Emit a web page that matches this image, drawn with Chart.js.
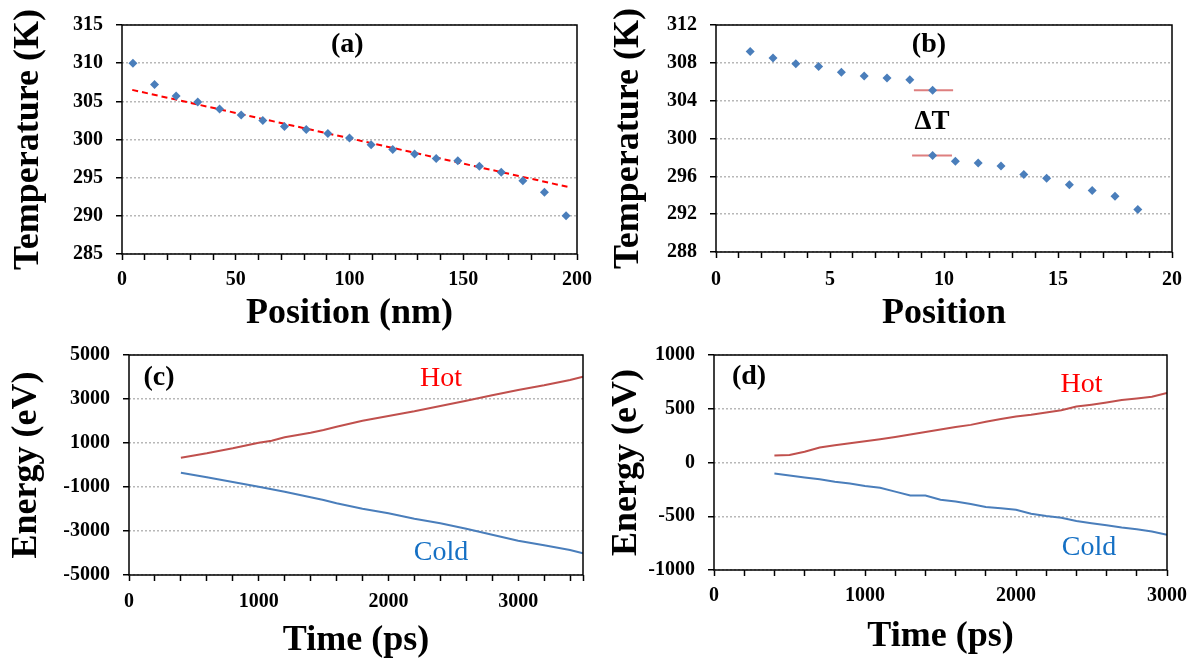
<html>

<head>
  <meta charset="utf-8">
  <style>
    html,
    body {
      margin: 0;
      padding: 0;
      background: #fff;
    }

    #wrap {
      position: relative;
      width: 1196px;
      height: 664px;
      overflow: hidden;
    }

    canvas {
      position: absolute;
    }
  </style>
</head>

<body>
  <div id="wrap">
    <canvas id="chartA" width="600" height="345" style="left:0;top:0"></canvas>
    <canvas id="chartB" width="596" height="345" style="left:600px;top:0"></canvas>
    <canvas id="chartC" width="600" height="334" style="left:0;top:330px"></canvas>
    <canvas id="chartD" width="596" height="334" style="left:600px;top:330px"></canvas>
  </div>
  <script src="https://cdn.jsdelivr.net/npm/chart.js@4.4.0/dist/chart.umd.min.js"></script>
  <script type="text/javascript">
    // (a) temperature profile, position in nm
    const posA = [4.8, 14.3, 23.8, 33.3, 42.9, 52.4, 61.9, 71.4, 81.0, 90.5, 100.0, 109.5, 119.0, 128.6, 138.1, 147.6, 157.1, 166.7, 176.2, 185.7, 195.2];
    const tempA = [310.0, 307.2, 305.7, 304.9, 304.0, 303.2, 302.5, 301.7, 301.3, 300.8, 300.2, 299.3, 298.7, 298.1, 297.5, 297.2, 296.5, 295.7, 294.6, 293.1, 290.0];
    const fitA_x = [4.5, 195.8];
    const fitA_y = [306.5, 293.8];
    const ticksAX = [0, 10, 20, 30, 40, 50, 60, 70, 80, 90, 100, 110, 120, 130, 140, 150, 160, 170, 180, 190, 200];
    const labelsAX = [0, 50, 100, 150, 200];
    const ticksAY = [285, 290, 295, 300, 305, 310, 315];

    // (b) temperature per slab
    const posB = [1.5, 2.5, 3.5, 4.5, 5.5, 6.5, 7.5, 8.5, 9.5, 9.5, 10.5, 11.5, 12.5, 13.5, 14.5, 15.5, 16.5, 17.5, 18.5];
    const tempB = [309.2, 308.5, 307.9, 307.6, 307.0, 306.6, 306.4, 306.2, 305.1, 298.2, 297.6, 297.4, 297.1, 296.2, 295.8, 295.1, 294.5, 293.9, 292.5];
    const dtHighX = [8.68, 10.4];
    const dtHighY = [305.1, 305.1];
    const dtLowX = [8.6, 10.35];
    const dtLowY = [298.2, 298.2];
    const ticksBX = [0, 1, 2, 3, 4, 5, 6, 7, 8, 9, 10, 11, 12, 13, 14, 15, 16, 17, 18, 19, 20];
    const labelsBX = [0, 5, 10, 15, 20];
    const ticksBY = [288, 292, 296, 300, 304, 308, 312];

    // (c) energy vs time
    const timeC = [400, 600, 800, 1000, 1100, 1200, 1400, 1500, 1600, 1800, 2000, 2200, 2400, 2600, 2800, 3000, 3200, 3400, 3500];
    const hotC = [333, 530, 758, 1015, 1106, 1258, 1470, 1591, 1742, 2015, 2227, 2439, 2682, 2924, 3167, 3409, 3621, 3864, 4015];
    const coldC = [-348, -561, -773, -985, -1100, -1212, -1470, -1591, -1742, -1985, -2197, -2439, -2652, -2894, -3167, -3439, -3652, -3864, -4015];
    const ticksCX = [0, 200, 400, 600, 800, 1000, 1200, 1400, 1600, 1800, 2000, 2200, 2400, 2600, 2800, 3000, 3200, 3400, 3500];
    const labelsCX = [0, 1000, 2000, 3000];
    const ticksCY = [-5000, -3000, -1000, 1000, 3000, 5000];

    // (d) energy vs time
    const timeD = [400, 500, 600, 700, 800, 900, 1000, 1100, 1200, 1300, 1400, 1500, 1600, 1700, 1800, 1900, 2000, 2100, 2200, 2300, 2400, 2500, 2600, 2700, 2800, 2900, 3000];
    const hotD = [64, 70, 100, 140, 161, 179, 198, 216, 237, 261, 283, 307, 331, 350, 380, 404, 428, 444, 465, 486, 520, 538, 559, 581, 596, 611, 647];
    const coldD = [-103, -122, -140, -155, -179, -195, -219, -235, -271, -307, -307, -347, -362, -386, -413, -425, -440, -477, -498, -514, -544, -565, -584, -605, -620, -641, -672];
    const ticksDX = [0, 200, 400, 600, 800, 1000, 1200, 1400, 1600, 1800, 2000, 2200, 2400, 2600, 2800, 3000];
    const labelsDX = [0, 1000, 2000, 3000];
    const ticksDY = [-1000, -500, 0, 500, 1000];

    const SERIF = "'Liberation Serif', 'Times New Roman', serif";
    const tickFont = { family: SERIF, size: 20, weight: 'bold' };
    const titleFont = { family: SERIF, size: 36, weight: 'bold', lineHeight: 1 };

    const pts = (xs, ys) => xs.map((x, i) => ({ x: x, y: ys[i] }));

    function xAxis(min, max, ticks, labels, height, title, titlePad, labelPad) {
      return {
        type: 'linear',
        min: min,
        max: max,
        afterBuildTicks: s => { s.ticks = ticks.map(v => ({ value: v })); },
        afterFit: s => { s.height = height; },
        ticks: {
          autoSkip: false,
          maxRotation: 0,
          padding: labelPad,
          color: '#000',
          font: tickFont,
          callback: v => labels.includes(v) ? String(v) : '',
        },
        grid: { drawOnChartArea: false, drawTicks: true, tickLength: 6, tickColor: '#000', tickWidth: 1.5 },
        border: { display: false },
        title: { display: true, text: title, color: '#000', font: titleFont, padding: { top: 0, bottom: titlePad } },
      };
    }

    function yAxis(min, max, ticks, width, title, titlePad) {
      return {
        type: 'linear',
        min: min,
        max: max,
        afterBuildTicks: s => { s.ticks = ticks.map(v => ({ value: v })); },
        afterFit: s => { s.width = width; },
        ticks: { padding: 13, color: '#000', font: tickFont, callback: v => String(v) },
        grid: { color: '#b8b8b8', lineWidth: 1.5, drawTicks: true, tickLength: 6, tickColor: '#000', tickWidth: 1.5 },
        border: { display: false, dash: [2, 2] },
        title: { display: true, text: title, color: '#000', font: titleFont, padding: { top: titlePad, bottom: 0 } },
      };
    }

    const frame = {
      id: 'frame',
      afterDatasetsDraw(chart) {
        const { ctx, chartArea: a } = chart;
        ctx.save();
        ctx.strokeStyle = '#000';
        ctx.lineWidth = 1.5;
        ctx.strokeRect(a.left, a.top, a.right - a.left, a.bottom - a.top);
        ctx.restore();
      },
    };

    const notes = {
      id: 'notes',
      afterDraw(chart, args, opts) {
        const { ctx, scales } = chart;
        (opts.items || []).forEach(n => {
          ctx.save();
          ctx.font = (n.weight || 'bold') + ' ' + (n.size || 28) + 'px ' + SERIF;
          ctx.fillStyle = n.color || '#000';
          ctx.textAlign = 'center';
          ctx.textBaseline = 'middle';
          ctx.fillText(n.text, scales.x.getPixelForValue(n.x), scales.y.getPixelForValue(n.y));
          ctx.restore();
        });
      },
    };

    function base(pad, xs, ys, items) {
      return {
        responsive: false,
        animation: false,
        layout: { padding: pad },
        plugins: { legend: { display: false }, tooltip: { enabled: false }, notes: { items: items } },
        scales: { x: xs, y: ys },
      };
    }

    const diamond = {
      pointStyle: 'rectRot',
      pointRadius: 4.5,
      backgroundColor: '#4a7ebb',
      borderColor: '#4a7ebb',
      borderWidth: 0,
      showLine: false,
      order: 0,
    };

    new Chart(document.getElementById('chartA'), {
      type: 'scatter',
      data: {
        datasets: [
          Object.assign({ data: pts(posA, tempA) }, diamond),
          { data: pts(fitA_x, fitA_y), showLine: true, pointRadius: 0, borderColor: '#ff0000', borderWidth: 2, borderDash: [6, 4], order: 1 },
        ],
      },
      options: base({ left: 0, right: 23, top: 23, bottom: 0 },
        xAxis(0, 200, ticksAX, labelsAX, 91, 'Position (nm)', 13, 8),
        yAxis(285, 315, ticksAY, 122, 'Temperature (K)', 11),
        [{ text: '(a)', x: 99, y: 312.4 }]),
      plugins: [frame, notes],
    });

    new Chart(document.getElementById('chartB'), {
      type: 'scatter',
      data: {
        datasets: [
          Object.assign({ data: pts(posB, tempB) }, diamond),
          { data: pts(dtHighX, dtHighY), showLine: true, pointRadius: 0, borderColor: '#de7f7f', borderWidth: 2, order: 1 },
          { data: pts(dtLowX, dtLowY), showLine: true, pointRadius: 0, borderColor: '#de7f7f', borderWidth: 2, order: 1 },
        ],
      },
      options: base({ left: 0, right: 24, top: 23, bottom: 0 },
        xAxis(0, 20, ticksBX, labelsBX, 93, 'Position', 13, 10),
        yAxis(288, 312, ticksBY, 116, 'Temperature (K)', 11),
        [{ text: '(b)', x: 9.34, y: 309.9 }, { text: '\u0394T', x: 9.47, y: 301.7, size: 27 }]),
      plugins: [frame, notes],
    });

    new Chart(document.getElementById('chartC'), {
      type: 'scatter',
      data: {
        datasets: [
          { data: pts(timeC, hotC), showLine: true, pointRadius: 0, borderColor: '#c0504d', borderWidth: 2 },
          { data: pts(timeC, coldC), showLine: true, pointRadius: 0, borderColor: '#4a7ebb', borderWidth: 2 },
        ],
      },
      options: base({ left: 0, right: 17, top: 25, bottom: 0 },
        xAxis(0, 3500, ticksCX, labelsCX, 89, 'Time (ps)', 5, 9),
        yAxis(-5000, 5000, ticksCY, 129, 'Energy (eV)', 9),
        [
          { text: '(c)', x: 231, y: 3955 },
          { text: 'Hot', x: 2405, y: 3909, weight: 'normal', color: '#ff0000' },
          { text: 'Cold', x: 2405, y: -4000, weight: 'normal', color: '#1570c4' },
        ]),
      plugins: [frame, notes],
    });

    new Chart(document.getElementById('chartD'), {
      type: 'scatter',
      data: {
        datasets: [
          { data: pts(timeD, hotD), showLine: true, pointRadius: 0, borderColor: '#c0504d', borderWidth: 2 },
          { data: pts(timeD, coldD), showLine: true, pointRadius: 0, borderColor: '#4a7ebb', borderWidth: 2 },
        ],
      },
      options: base({ left: 0, right: 29, top: 21, bottom: 0 },
        xAxis(0, 3000, ticksDX, labelsDX, 94, 'Time (ps)', 9, 8),
        yAxis(-1000, 1000, ticksDY, 114, 'Energy (eV)', 9),
        [
          { text: '(d)', x: 232, y: 799 },
          { text: 'Hot', x: 2434, y: 726, weight: 'normal', color: '#ff0000' },
          { text: 'Cold', x: 2483, y: -790, weight: 'normal', color: '#1570c4' },
        ]),
      plugins: [frame, notes],
    });
  </script>
</body>

</html>
